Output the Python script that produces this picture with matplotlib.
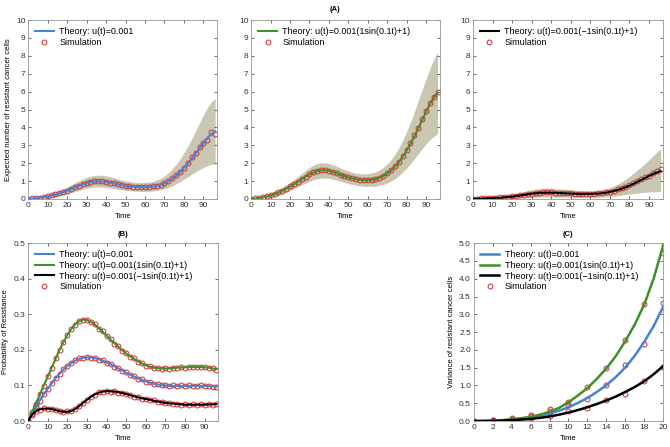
import numpy as np
import matplotlib.pyplot as plt

plt.rcParams['font.family'] = ['Liberation Sans', 'DejaVu Sans']

# ---- panel (A): expected number of resistant cells, t = 0,2,...,96
t_top = list(range(0, 98, 2))

mean_const = [0.0, 0.02, 0.04, 0.07, 0.10, 0.14, 0.19, 0.25, 0.31, 0.38,
              0.46, 0.55, 0.64, 0.73, 0.82, 0.89, 0.95, 0.98, 0.99, 0.98,
              0.95, 0.91, 0.87, 0.82, 0.78, 0.74, 0.71, 0.69, 0.67, 0.66,
              0.66, 0.67, 0.69, 0.73, 0.79, 0.88, 0.99, 1.13, 1.30, 1.50,
              1.73, 1.98, 2.25, 2.54, 2.83, 3.12, 3.40, 3.62, 3.78]
upper_const = [0.0, 0.03, 0.06, 0.10, 0.15, 0.21, 0.28, 0.36, 0.45, 0.55,
               0.66, 0.78, 0.90, 1.01, 1.11, 1.20, 1.27, 1.31, 1.33, 1.32,
               1.29, 1.24, 1.18, 1.12, 1.06, 1.01, 0.97, 0.94, 0.92, 0.91,
               0.92, 0.94, 0.98, 1.05, 1.15, 1.29, 1.46, 1.68, 1.94, 2.24,
               2.58, 2.96, 3.37, 3.81, 4.26, 4.70, 5.10, 5.42, 5.62]
lower_const = [0.0, 0.01, 0.02, 0.04, 0.06, 0.08, 0.11, 0.15, 0.19, 0.24,
               0.29, 0.35, 0.41, 0.48, 0.54, 0.60, 0.64, 0.66, 0.67, 0.66,
               0.64, 0.61, 0.58, 0.54, 0.51, 0.48, 0.46, 0.44, 0.43, 0.42,
               0.42, 0.43, 0.44, 0.47, 0.51, 0.57, 0.64, 0.73, 0.84, 0.97,
               1.10, 1.24, 1.38, 1.52, 1.64, 1.76, 1.86, 1.93, 1.96]
sim_const = [0.0, 0.03, 0.05, 0.07, 0.11, 0.14, 0.20, 0.25, 0.32, 0.38,
             0.47, 0.55, 0.65, 0.74, 0.83, 0.90, 0.96, 0.99, 1.00, 0.98,
             0.96, 0.91, 0.87, 0.83, 0.78, 0.75, 0.71, 0.69, 0.68, 0.66,
             0.66, 0.68, 0.70, 0.74, 0.79, 0.89, 1.00, 1.15, 1.31, 1.52,
             1.75, 2.00, 2.33, 2.55, 2.88, 3.15, 3.30, 3.72, 3.65]

mean_plus = [0.0, 0.02, 0.05, 0.09, 0.14, 0.20, 0.27, 0.36, 0.46, 0.57,
             0.69, 0.82, 0.96, 1.10, 1.24, 1.37, 1.48, 1.56, 1.60, 1.60,
             1.57, 1.51, 1.44, 1.36, 1.28, 1.21, 1.15, 1.10, 1.07, 1.05,
             1.05, 1.07, 1.11, 1.18, 1.28, 1.42, 1.59, 1.80, 2.05, 2.35,
             2.69, 3.07, 3.49, 3.94, 4.40, 4.86, 5.29, 5.65, 5.93]
upper_plus = [0.0, 0.03, 0.07, 0.13, 0.20, 0.28, 0.38, 0.50, 0.63, 0.77,
              0.92, 1.08, 1.25, 1.42, 1.60, 1.76, 1.89, 1.98, 2.02, 2.02,
              1.98, 1.91, 1.82, 1.73, 1.64, 1.56, 1.49, 1.44, 1.41, 1.40,
              1.41, 1.45, 1.52, 1.62, 1.76, 1.95, 2.19, 2.49, 2.85, 3.27,
              3.75, 4.28, 4.86, 5.47, 6.09, 6.70, 7.27, 7.80, 8.20]
lower_plus = [0.0, 0.01, 0.03, 0.05, 0.08, 0.12, 0.16, 0.22, 0.29, 0.37,
              0.46, 0.56, 0.67, 0.78, 0.89, 0.98, 1.07, 1.13, 1.17, 1.17,
              1.15, 1.10, 1.05, 0.99, 0.92, 0.86, 0.81, 0.76, 0.73, 0.71,
              0.70, 0.70, 0.72, 0.75, 0.81, 0.89, 1.00, 1.13, 1.30, 1.50,
              1.72, 1.97, 2.24, 2.52, 2.80, 3.07, 3.31, 3.50, 3.62]
sim_plus = [0.0, 0.03, 0.06, 0.09, 0.15, 0.21, 0.27, 0.37, 0.46, 0.58,
            0.70, 0.83, 0.97, 1.11, 1.25, 1.38, 1.49, 1.57, 1.61, 1.60,
            1.58, 1.51, 1.45, 1.36, 1.29, 1.21, 1.15, 1.09, 1.07, 1.05,
            1.04, 1.08, 1.12, 1.18, 1.29, 1.43, 1.61, 1.82, 2.08, 2.38,
            2.72, 3.10, 3.55, 3.98, 4.45, 4.92, 5.35, 5.70, 5.97]

mean_minus = [0.0, 0.01, 0.02, 0.03, 0.04, 0.05, 0.06, 0.07, 0.09, 0.11,
              0.13, 0.16, 0.19, 0.23, 0.26, 0.29, 0.32, 0.34, 0.35, 0.35,
              0.35, 0.34, 0.33, 0.32, 0.31, 0.30, 0.29, 0.28, 0.28, 0.28,
              0.28, 0.29, 0.30, 0.32, 0.35, 0.39, 0.44, 0.50, 0.57, 0.65,
              0.74, 0.84, 0.95, 1.06, 1.17, 1.28, 1.39, 1.48, 1.55]
upper_minus = [0.0, 0.01, 0.03, 0.05, 0.07, 0.09, 0.11, 0.14, 0.17, 0.21,
               0.25, 0.30, 0.35, 0.41, 0.46, 0.51, 0.55, 0.58, 0.59, 0.60,
               0.59, 0.58, 0.56, 0.54, 0.52, 0.50, 0.48, 0.47, 0.46, 0.45,
               0.45, 0.46, 0.48, 0.51, 0.56, 0.63, 0.72, 0.83, 0.96, 1.10,
               1.26, 1.43, 1.61, 1.79, 1.98, 2.18, 2.40, 2.62, 2.78]
lower_minus = [0.0, 0.0, 0.01, 0.01, 0.01, 0.02, 0.02, 0.02, 0.03, 0.03,
               0.04, 0.05, 0.06, 0.07, 0.08, 0.09, 0.10, 0.11, 0.11, 0.11,
               0.11, 0.10, 0.10, 0.10, 0.10, 0.09, 0.09, 0.09, 0.09, 0.09,
               0.09, 0.10, 0.10, 0.11, 0.12, 0.14, 0.16, 0.18, 0.21, 0.24,
               0.27, 0.30, 0.33, 0.35, 0.37, 0.39, 0.40, 0.41, 0.41]
sim_minus = [0.0, 0.02, 0.03, 0.04, 0.05, 0.06, 0.07, 0.08, 0.10, 0.12,
             0.14, 0.17, 0.20, 0.24, 0.27, 0.30, 0.33, 0.35, 0.37, 0.36,
             0.36, 0.35, 0.34, 0.33, 0.32, 0.31, 0.30, 0.29, 0.29, 0.28,
             0.29, 0.30, 0.31, 0.33, 0.36, 0.41, 0.46, 0.53, 0.60, 0.69,
             0.78, 0.88, 1.00, 1.12, 1.22, 1.30, 1.45, 1.55, 1.68]

# ---- panel (B): probability of resistance, t = 0,2,...,96
prob_const = [0.0, 0.020, 0.040, 0.058, 0.075, 0.091, 0.106, 0.120, 0.133, 0.145,
              0.155, 0.163, 0.170, 0.175, 0.178, 0.179, 0.179, 0.177, 0.174, 0.170,
              0.165, 0.160, 0.154, 0.148, 0.142, 0.136, 0.130, 0.125, 0.120, 0.116,
              0.112, 0.108, 0.105, 0.103, 0.101, 0.100, 0.099, 0.099, 0.099, 0.099,
              0.099, 0.099, 0.099, 0.099, 0.099, 0.099, 0.098, 0.098, 0.097]
prob_plus = [0.0, 0.025, 0.050, 0.075, 0.100, 0.125, 0.150, 0.175, 0.200, 0.222,
             0.242, 0.259, 0.272, 0.281, 0.285, 0.284, 0.279, 0.271, 0.261, 0.251,
             0.240, 0.229, 0.219, 0.209, 0.199, 0.190, 0.182, 0.175, 0.168, 0.162,
             0.157, 0.153, 0.150, 0.149, 0.148, 0.148, 0.148, 0.149, 0.150, 0.151,
             0.151, 0.152, 0.152, 0.152, 0.152, 0.151, 0.150, 0.148, 0.146]
prob_minus = [0.0, 0.018, 0.028, 0.033, 0.035, 0.035, 0.034, 0.031, 0.028, 0.026,
              0.026, 0.028, 0.034, 0.042, 0.051, 0.060, 0.068, 0.075, 0.080, 0.083,
              0.084, 0.084, 0.083, 0.081, 0.079, 0.076, 0.073, 0.070, 0.067, 0.064,
              0.062, 0.060, 0.057, 0.055, 0.053, 0.051, 0.050, 0.049, 0.048, 0.047,
              0.046, 0.046, 0.046, 0.046, 0.046, 0.046, 0.047, 0.047, 0.048]
prob_sim_const = [0.0, 0.021, 0.041, 0.057, 0.076, 0.090, 0.107, 0.121, 0.132, 0.146,
                  0.154, 0.164, 0.171, 0.176, 0.177, 0.180, 0.178, 0.178, 0.173, 0.171,
                  0.164, 0.161, 0.153, 0.149, 0.141, 0.137, 0.129, 0.126, 0.119, 0.117,
                  0.111, 0.109, 0.104, 0.103, 0.100, 0.101, 0.099, 0.100, 0.098, 0.100,
                  0.098, 0.100, 0.099, 0.098, 0.100, 0.098, 0.099, 0.097, 0.096]
prob_sim_plus = [0.0, 0.026, 0.049, 0.076, 0.099, 0.126, 0.149, 0.176, 0.199, 0.223,
                 0.241, 0.260, 0.271, 0.282, 0.284, 0.285, 0.278, 0.272, 0.260, 0.252,
                 0.239, 0.230, 0.218, 0.210, 0.198, 0.191, 0.181, 0.176, 0.167, 0.163,
                 0.156, 0.154, 0.149, 0.150, 0.147, 0.149, 0.147, 0.150, 0.149, 0.152,
                 0.150, 0.153, 0.151, 0.153, 0.151, 0.152, 0.149, 0.149, 0.144]
prob_sim_minus = [0.0, 0.017, 0.029, 0.032, 0.036, 0.034, 0.035, 0.030, 0.029, 0.025,
                  0.027, 0.027, 0.035, 0.041, 0.052, 0.059, 0.069, 0.074, 0.081, 0.082,
                  0.085, 0.083, 0.084, 0.080, 0.080, 0.075, 0.074, 0.069, 0.068, 0.063,
                  0.063, 0.059, 0.058, 0.054, 0.054, 0.050, 0.051, 0.048, 0.049, 0.046,
                  0.047, 0.045, 0.047, 0.045, 0.047, 0.045, 0.048, 0.046, 0.049]

# ---- panel (C): variance, theory t = 0..20, simulation t = 0,2,...,20
t_var = list(range(0, 21))
var_const = [0.0, 0.002, 0.008, 0.02, 0.04, 0.065, 0.10, 0.15, 0.21, 0.29, 0.39,
             0.51, 0.65, 0.82, 1.01, 1.24, 1.51, 1.84, 2.23, 2.68, 3.22]
var_plus = [0.0, 0.002, 0.01, 0.025, 0.05, 0.08, 0.12, 0.18, 0.26, 0.37, 0.53,
            0.72, 0.93, 1.19, 1.48, 1.83, 2.25, 2.72, 3.28, 4.02, 4.95]
var_minus = [0.0, 0.001, 0.005, 0.013, 0.025, 0.04, 0.06, 0.09, 0.13, 0.18, 0.24,
             0.31, 0.39, 0.48, 0.58, 0.69, 0.82, 0.96, 1.12, 1.32, 1.55]
t_var_sim = list(range(0, 22, 2))
var_sim_const = [0.0, 0.02, 0.07, 0.15, 0.28, 0.45, 0.62, 1.00, 1.58, 2.18, 3.33]
var_sim_plus = [0.0, 0.03, 0.08, 0.17, 0.33, 0.55, 0.95, 1.50, 2.27, 3.30, 4.72]
var_sim_minus = [0.0, 0.01, 0.04, 0.10, 0.15, 0.27, 0.38, 0.58, 0.75, 1.12, 1.52]

lab_const = 'Theory: u(t)=0.001'
lab_plus = 'Theory: u(t)=0.001(1sin(0.1t)+1)'
lab_minus = 'Theory: u(t)=0.001(\u22121sin(0.1t)+1)'

c_blue = '#4683d6'
c_green = '#3f8f2a'
c_black = '#000000'
c_sim = '#d42a2a'
c_band = '#c9c7b1'
fs_tick = 6
fs_leg = 6.5
fs_lab = 5.5


def style(ax):
    ax.tick_params(direction='in', top=True, right=True, length=2.5, width=0.5,
                   labelsize=fs_tick, pad=2, colors='#333333')
    for s in ax.spines.values():
        s.set_color('#999999')
        s.set_linewidth(0.6)


def legend(ax, h, l):
    ax.legend(h, l, loc='upper left', frameon=False, fontsize=fs_leg,
              handlelength=2.1, handletextpad=0.6, borderaxespad=0.45,
              borderpad=0.3, labelspacing=0.2)


fig = plt.figure(figsize=(6.7, 4.47), dpi=100)

top_pos = [[0.042, 0.555, 0.282, 0.400],
           [0.375, 0.555, 0.281, 0.400],
           [0.706, 0.555, 0.283, 0.400]]
top_sets = [(mean_const, upper_const, lower_const, sim_const, c_blue, lab_const),
            (mean_plus, upper_plus, lower_plus, sim_plus, c_green, lab_plus),
            (mean_minus, upper_minus, lower_minus, sim_minus, c_black, lab_minus)]

for i, (pos, (m, up, lo, sim, col, lab)) in enumerate(zip(top_pos, top_sets)):
    ax = fig.add_axes(pos)
    ax.fill_between(t_top, lo, up, color=c_band, lw=0, zorder=1)
    ax.plot(t_top, sim, 'o', ms=3.5, mfc='none', mec=c_sim, mew=0.7,
            label='Simulation', zorder=2)
    ax.plot(t_top, m, color=col, lw=1.5, label=lab, zorder=3)
    ax.set_xlim(0, 97)
    ax.set_ylim(0, 10)
    ax.set_xticks(np.arange(0, 100, 10))
    ax.set_yticks(np.arange(0, 11, 1))
    ax.set_xlabel('Time', fontsize=fs_lab, labelpad=3)
    if i == 0:
        ax.set_ylabel('Expected number of resistant cancer cells', fontsize=fs_lab, labelpad=3)
    h, l = ax.get_legend_handles_labels()
    legend(ax, h[::-1], l[::-1])
    style(ax)

fig.text(0.5, 0.978, '(A)', ha='center', va='center', fontsize=fs_lab, fontweight='bold')

# (B)
ax = fig.add_axes([0.042, 0.058, 0.284, 0.398])
ax.plot(t_top, prob_sim_const, 'o', ms=3.5, mfc='none', mec=c_sim, mew=0.7, zorder=2)
ax.plot(t_top, prob_sim_plus, 'o', ms=3.5, mfc='none', mec=c_sim, mew=0.7, zorder=2)
ax.plot(t_top, prob_sim_minus, 'o', ms=3.5, mfc='none', mec=c_sim, mew=0.7, zorder=2,
        label='Simulation')
ax.plot(t_top, prob_const, color=c_blue, lw=1.5, label=lab_const, zorder=3)
ax.plot(t_top, prob_plus, color=c_green, lw=1.5, label=lab_plus, zorder=3)
ax.plot(t_top, prob_minus, color=c_black, lw=1.5, label=lab_minus, zorder=3)
ax.set_xlim(0, 97)
ax.set_ylim(0, 0.5)
ax.set_xticks(np.arange(0, 100, 10))
ax.set_yticks(np.arange(0, 0.51, 0.1))
ax.set_yticklabels(['%.1f' % v for v in np.arange(0, 0.51, 0.1)])
ax.set_xlabel('Time', fontsize=fs_lab, labelpad=3)
ax.set_ylabel('Probability of Resistance', fontsize=fs_lab, labelpad=3)
h, l = ax.get_legend_handles_labels()
legend(ax, h[1:] + h[:1], l[1:] + l[:1])
style(ax)
fig.text(0.184, 0.476, '(B)', ha='center', va='center', fontsize=fs_lab, fontweight='bold')

# (C)
ax = fig.add_axes([0.707, 0.058, 0.283, 0.398])
ax.plot(t_var_sim, var_sim_const, 'o', ms=3.5, mfc='none', mec=c_sim, mew=0.7, zorder=2)
ax.plot(t_var_sim, var_sim_plus, 'o', ms=3.5, mfc='none', mec=c_sim, mew=0.7, zorder=2)
ax.plot(t_var_sim, var_sim_minus, 'o', ms=3.5, mfc='none', mec=c_sim, mew=0.7, zorder=2,
        label='Simulation')
ax.plot(t_var, var_const, color=c_blue, lw=1.8, label=lab_const, zorder=3)
ax.plot(t_var, var_plus, color=c_green, lw=1.8, label=lab_plus, zorder=3)
ax.plot(t_var, var_minus, color=c_black, lw=1.8, label=lab_minus, zorder=3)
ax.set_xlim(0, 20)
ax.set_ylim(0, 5)
ax.set_xticks(np.arange(0, 21, 2))
ax.set_yticks(np.arange(0, 5.01, 0.5))
ax.set_yticklabels(['%.1f' % v for v in np.arange(0, 5.01, 0.5)])
ax.set_xlabel('Time', fontsize=fs_lab, labelpad=3)
ax.set_ylabel('Variance of resistant cancer cells', fontsize=fs_lab, labelpad=3)
h, l = ax.get_legend_handles_labels()
legend(ax, h[1:] + h[:1], l[1:] + l[:1])
style(ax)
fig.text(0.848, 0.476, '(C)', ha='center', va='center', fontsize=fs_lab, fontweight='bold')

fig.savefig('out.png', dpi=100)
